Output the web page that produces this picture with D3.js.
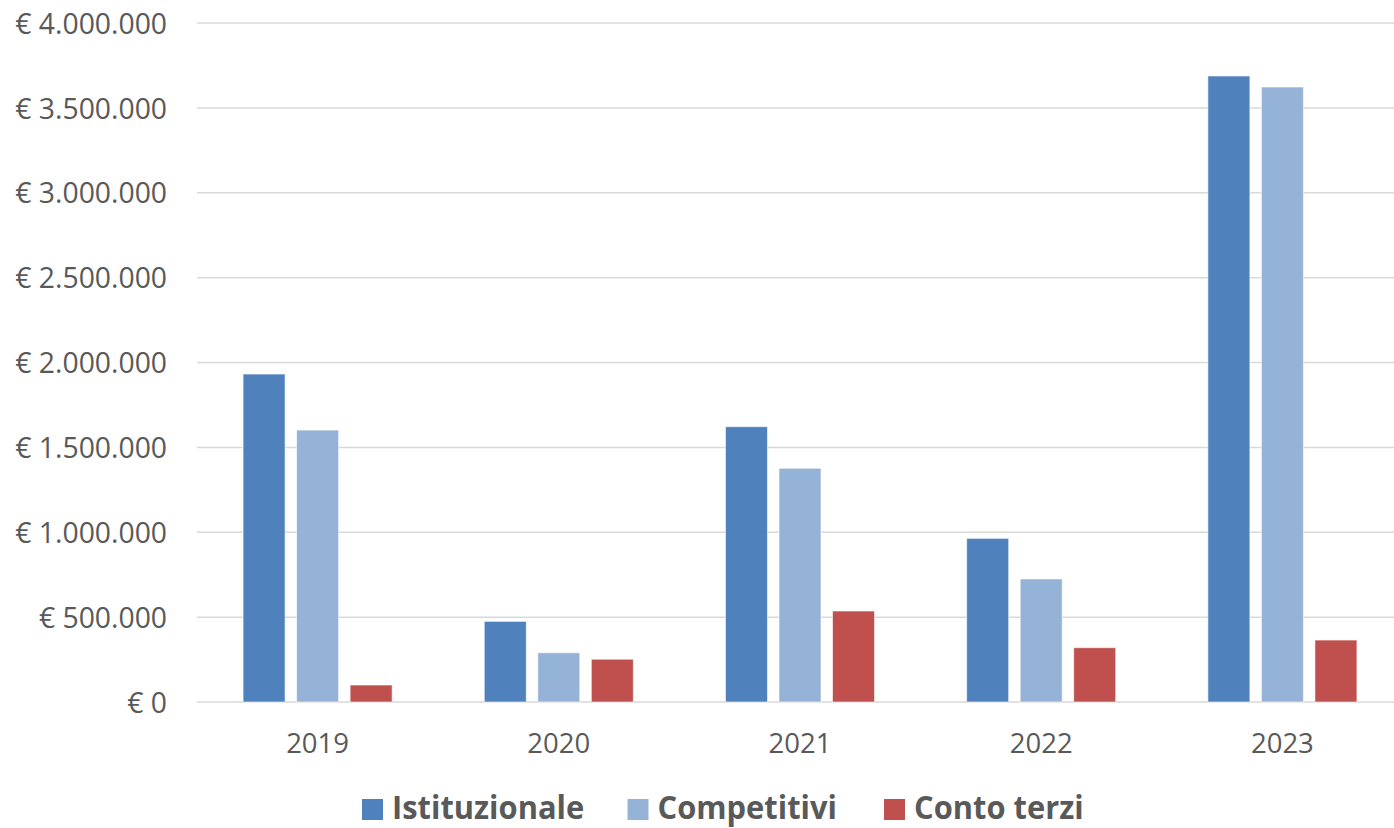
<!DOCTYPE html>
<html><head><meta charset="utf-8">
<script src="https://cdn.jsdelivr.net/npm/d3@7"></script>
<style>html,body{margin:0;padding:0;background:#fff;}</style>
</head><body>
<svg id="chart" width="1394" height="828"></svg>
<script>
const categories = ["2019","2020","2021","2022","2023"];
const seriesNames = ["Istituzionale","Competitivi","Conto terzi"];
const istituzionale = [1932000, 475000, 1622000, 964000, 3688000];
const competitivi = [1602000, 290000, 1377000, 725000, 3623000];
const contoTerzi = [100000, 252000, 536000, 320000, 365000];
const yTicks = [0,500000,1000000,1500000,2000000,2500000,3000000,3500000,4000000];
const colors = ["#4F81BD","#95B3D7","#C0504D"];

(function(){
const seriesValues = [istituzionale, competitivi, contoTerzi];
const svg = d3.select("#chart");
const plotLeft = 197, plotRight = 1403, gridRight = 1394, plotTop = 23, plotBottom = 702;

const x0 = d3.scaleBand().domain(categories).range([plotLeft, plotRight]).paddingInner(0.382).paddingOuter(0.191);
const x1 = d3.scaleBand().domain(seriesNames).range([0, x0.bandwidth()]).paddingInner(0.215).paddingOuter(0);
const y = d3.scaleLinear().domain([0, 4000000]).range([plotBottom, plotTop]);

const fmt = v => "€ " + d3.format(",")(v).replace(/,/g, ".");

svg.append("g").selectAll("line").data(yTicks).join("line")
  .attr("x1", plotLeft).attr("x2", gridRight)
  .attr("y1", d => y(d)).attr("y2", d => y(d))
  .attr("stroke", "#D9D9D9").attr("stroke-width", 1.5);

const yAxis = d3.axisLeft(y).tickValues(yTicks).tickFormat(fmt).tickSize(0).tickPadding(0);
const ya = svg.append("g").attr("transform", `translate(167,0)`).call(yAxis);
ya.select(".domain").remove();
ya.selectAll("text").attr("font-family", "'Open Sans', sans-serif").attr("font-size", 28.3).attr("fill", "#595959").attr("dy", "0.36em");

const xAxis = d3.axisBottom(x0).tickSize(0).tickPadding(0);
const xa = svg.append("g").attr("transform", `translate(0,${plotBottom + 41})`).call(xAxis);
xa.select(".domain").remove();
xa.selectAll("text").attr("font-family", "'Open Sans', sans-serif").attr("font-size", 27.5).attr("fill", "#595959").attr("dy", "0.36em");

const groups = svg.append("g").selectAll("g").data(categories).join("g")
  .attr("transform", d => `translate(${x0(d)},0)`);
groups.selectAll("rect").data((d, i) => seriesNames.map((s, j) => ({s, j, v: seriesValues[j][i]})))
  .join("rect")
  .attr("x", d => x1(d.s)).attr("width", x1.bandwidth())
  .attr("y", d => y(d.v)).attr("height", d => plotBottom - y(d.v))
  .attr("fill", d => colors[d.j])
  .attr("stroke", "#ffffff").attr("stroke-opacity", 0.6).attr("stroke-width", 1);

const legendX = [362, 627.5, 884];
const lg = svg.append("g").selectAll("g").data(seriesNames).join("g")
  .attr("transform", (d, i) => `translate(${legendX[i]},799)`);
lg.append("rect").attr("width", 21).attr("height", 21).attr("fill", (d, i) => colors[i]);
lg.append("text").attr("transform", "translate(30,20) scale(0.95,1)")
  .attr("font-family", "'Open Sans', sans-serif").attr("font-weight", "bold")
  .attr("font-size", 32.5).attr("fill", "#595959").text(d => d);
})();
</script>
</body></html>
